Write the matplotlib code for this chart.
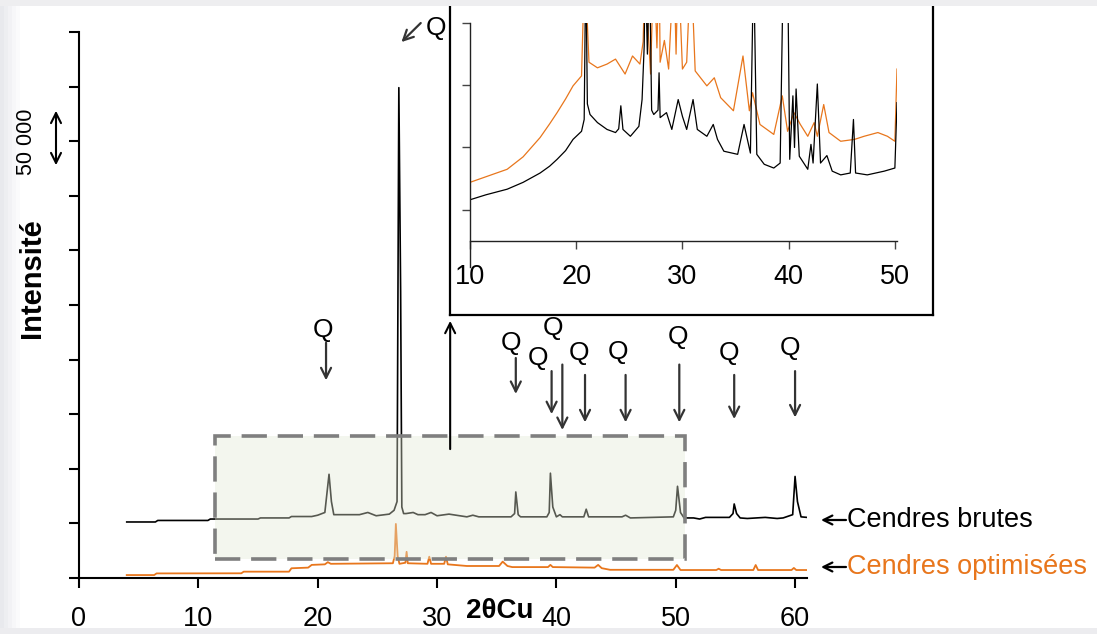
import matplotlib
matplotlib.use("Agg")
import matplotlib.pyplot as plt
from matplotlib.patches import Rectangle

plt.rcParams["font.family"] = ["Liberation Sans", "DejaVu Sans"]

W, H = 1097, 634

# main diffractogram, raw ashes (2theta, intensity)
brutes_x = [4.0, 6.4, 6.6, 10.8, 11.0, 15.0, 15.2, 17.6, 17.8, 19.5, 20.0, 20.6,
            20.95, 21.15, 21.35, 23.5, 24.2, 24.9, 26.0, 26.4, 26.65, 26.8, 26.95,
            27.05, 27.2, 27.4, 28.0, 28.4, 29.0, 29.5, 30.0, 31.0, 32.5, 33.0,
            33.5, 36.2, 36.5, 36.6, 36.8, 37.0, 39.2, 39.4, 39.5, 39.7, 40.0,
            40.3, 40.5, 42.3, 42.5, 42.7, 45.5, 45.8, 46.2, 49.8, 50.0, 50.15,
            50.4, 50.7, 51.5, 52.0, 52.5, 54.5, 54.8, 54.9, 55.1, 55.4, 56.0,
            57.5, 58.5, 59.0, 59.8, 60.0, 60.2, 60.5, 61.0]
brutes_y = [51300, 51300, 52700, 52700, 54000, 54000, 55000, 55000, 56300, 56300,
            57500, 60000, 95000, 70000, 58000, 58000, 60000, 57000, 58500, 62000,
            70000, 449000, 262000, 65000, 59000, 59000, 60000, 58000, 58000,
            60000, 57000, 58500, 56000, 57500, 56000, 56000, 59000, 78800, 58000,
            56000, 56000, 60000, 96000, 65000, 56000, 58000, 56000, 56000, 63000,
            56000, 56000, 57500, 55000, 56000, 62000, 84000, 60000, 55000, 55000,
            54000, 55500, 55500, 59000, 67800, 59000, 55000, 54500, 55500, 54500,
            55000, 58000, 93000, 70000, 56000, 55500]

# main diffractogram, optimised ashes
optim_x = [4.0, 6.3, 6.5, 13.6, 13.8, 17.6, 17.8, 19.2, 19.5, 20.6, 20.85, 21.1,
           26.3, 26.45, 26.55, 26.7, 26.85, 27.35, 27.45, 27.55, 29.2, 29.35,
           29.5, 30.6, 30.75, 30.9, 32.5, 35.2, 35.5, 35.9, 36.3, 39.3, 39.5,
           39.7, 43.2, 43.5, 43.8, 44.5, 49.8, 50.1, 50.4, 53.4, 53.6, 53.8,
           56.5, 56.7, 56.9, 59.7, 59.9, 60.1, 61.0]
optim_y = [2700, 2700, 4200, 4300, 5800, 5800, 8900, 9500, 12000, 12500, 14500,
           13000, 13500, 20000, 49500, 20000, 13000, 14000, 24000, 13500, 13000,
           19500, 13000, 13000, 19500, 12500, 11000, 11000, 15000, 11000, 10000,
           10000, 12000, 10000, 9500, 12000, 9000, 7500, 7500, 11900, 7300, 7300,
           8500, 7300, 7300, 11900, 7300, 7300, 9200, 7300, 7300]

# zoomed inset 10-50 deg (arbitrary units)
zoom_brutes_x = [10.0, 11.5, 13.5, 15.0, 16.6, 17.5, 18.2, 19.0, 19.7, 20.5, 20.75,
                 20.9, 21.05, 21.3, 22.0, 22.9, 23.7, 24.0, 24.2, 24.4, 25.1, 25.9,
                 26.2, 26.4, 26.5, 26.7, 26.9, 27.1, 27.3, 27.7, 27.8, 27.9, 28.5,
                 29.0, 29.6, 30.0, 30.4, 31.0, 31.4, 32.3, 32.9, 33.3, 33.9, 35.2,
                 35.8, 36.4, 36.7, 37.0, 37.7, 38.6, 39.2, 39.5, 39.9, 40.1, 40.4,
                 40.55, 40.7, 41.0, 41.8, 42.1, 42.3, 42.7, 43.0, 43.6, 44.1, 44.9,
                 45.8, 46.1, 46.3, 47.4, 49.0, 50.0, 50.2]
zoom_brutes_y = [1.16, 1.24, 1.33, 1.44, 1.59, 1.70, 1.81, 1.95, 2.13, 2.26, 2.45,
                 5.0, 2.70, 2.53, 2.40, 2.29, 2.24, 2.30, 2.67, 2.29, 2.18, 2.34,
                 2.77, 3.63, 5.0, 3.50, 5.0, 2.60, 2.53, 2.60, 3.20, 2.48, 2.56,
                 2.29, 2.77, 2.50, 2.29, 2.77, 2.29, 2.18, 2.37, 2.13, 1.94, 1.89,
                 2.37, 1.91, 5.0, 1.89, 1.73, 1.67, 1.75, 5.0, 5.0, 1.81, 2.83,
                 2.00, 2.94, 1.86, 1.65, 2.05, 1.75, 3.02, 1.75, 1.87, 1.62, 1.56,
                 1.59, 2.45, 1.59, 1.56, 1.62, 1.67, 2.72]
zoom_optim_x = [10.0, 11.5, 13.5, 15.0, 16.6, 17.5, 18.2, 19.0, 19.7, 20.5, 20.8,
                21.2, 22.0, 22.9, 23.7, 24.6, 25.3, 26.0, 26.3, 26.5, 26.8, 27.0,
                27.3, 27.6, 27.8, 27.9, 28.3, 28.7, 29.2, 29.4, 29.6, 30.0, 30.4,
                30.8, 31.2, 32.3, 33.0, 33.6, 34.8, 35.7, 36.3, 36.6, 37.3, 38.6,
                39.4, 39.9, 40.5, 41.1, 41.8, 42.4, 42.7, 43.3, 43.8, 44.9, 46.2,
                47.1, 48.4, 49.3, 50.0, 50.2]
zoom_optim_y = [1.44, 1.53, 1.65, 1.85, 2.16, 2.38, 2.56, 2.78, 2.99, 3.15, 5.0,
                3.37, 3.28, 3.34, 3.42, 3.18, 3.47, 3.34, 3.70, 5.0, 3.80, 3.18,
                5.0, 3.60, 5.0, 3.37, 3.72, 3.26, 5.0, 3.50, 5.0, 3.26, 3.37, 5.0,
                3.23, 2.99, 3.12, 2.80, 2.59, 3.47, 2.59, 2.88, 2.37, 2.21, 2.83,
                2.26, 2.56, 2.37, 2.18, 2.40, 2.18, 2.69, 2.24, 2.10, 2.13, 2.18,
                2.24, 2.18, 2.10, 3.26]

# quartz peak markers: peak position, label height, arrow top, arrow bottom, label shift
q_pos = [20.7, 36.6, 39.6, 40.5, 42.4, 45.8, 50.3, 54.9, 60.0]
q_label_y = [227000, 215000, 201500, 229000, 206000, 207000, 221000, 206000, 210500]
q_arrow_top = [218000, 204000, 192000, 198000, 188500, 188500, 198000, 188500, 192000]
q_arrow_bot = [178500, 166000, 147500, 133000, 140000, 140000, 140000, 143000, 144500]
q_shift = [-0.25, -0.4, -1.1, -0.75, -0.5, -0.67, -0.1, -0.4, -0.4]

x_ticks = [0, 10, 20, 30, 40, 50, 60]
zoom_ticks = [10, 20, 30, 40, 50]

black = "#000000"
orange = "#E8761C"
arrow_col = "#333333"

fig = plt.figure(figsize=(W / 100, H / 100), dpi=100)
fig.patch.set_facecolor("white")

# slide background strips
for i, a in enumerate([0.9, 0.7, 0.5, 0.3, 0.15]):
    fig.patches.append(Rectangle((i * 4 / W, 0), 4 / W, 1, transform=fig.transFigure,
                                 color="#e6e7ec", alpha=a, lw=0, zorder=0))
fig.patches.append(Rectangle((0, 1 - 6 / H), 1, 6 / H, transform=fig.transFigure,
                             color="#eeeef0", lw=0, zorder=0))
fig.patches.append(Rectangle((0, 0), 1, 6 / H, transform=fig.transFigure,
                             color="#ececef", lw=0, zorder=0))

ax = fig.add_axes([79 / W, (H - 578) / H, (807 - 79) / W, (578 - 32) / H])
ax.patch.set_alpha(0)
ax.plot(brutes_x, brutes_y, color=black, lw=1.2, zorder=2)
ax.plot(optim_x, optim_y, color=orange, lw=1.3, zorder=2)
ax.set_xlim(0, 61)
ax.set_ylim(0, 500000)
ax.set_xticks(x_ticks)
ax.set_yticks(range(0, 500001, 50000))
ax.set_yticklabels([])
ax.tick_params(axis="both", direction="out", length=7, width=1.5, labelsize=19.5, pad=13)
for s in ["top", "right"]:
    ax.spines[s].set_visible(False)
for s in ["left", "bottom"]:
    ax.spines[s].set_linewidth(1.5)

# dashed zoom window
ax.add_patch(Rectangle((11.4, 17400), 50.8 - 11.4, 130000 - 17400,
                       facecolor=(0.888, 0.909, 0.826, 0.385), edgecolor="#7f7f7f",
                       lw=2.6, linestyle=(0, (7, 3)), zorder=3))

ax.annotate("", xy=(31.1, 238000), xytext=(31.1, 115500),
            arrowprops=dict(arrowstyle="->", color=black, lw=1.5,
                            mutation_scale=18), zorder=4)

for x, ly, top, bot, dx in zip(q_pos, q_label_y, q_arrow_top, q_arrow_bot, q_shift):
    ax.text(x + dx, ly, "Q", fontsize=19, ha="center", va="center", zorder=4)
    ax.annotate("", xy=(x, bot), xytext=(x, top),
                arrowprops=dict(arrowstyle="->", color=arrow_col, lw=1.6,
                                mutation_scale=18), zorder=4)

ax.annotate("", xy=(26.85, 489000), xytext=(28.8, 510000), annotation_clip=False,
            arrowprops=dict(arrowstyle="->", color=arrow_col, lw=1.6, mutation_scale=18))
ax.text(29.95, 504000, "Q", fontsize=19, ha="center", va="center", clip_on=False)

# curve labels with pointing arrows
for ly, label, col in [(520, "Cendres brutes", black), (567, "Cendres optimisées", orange)]:
    fig.text(847 / W, 1 - ly / H, label, fontsize=19.5, color=col,
             ha="left", va="center")
    ax.annotate("", xy=(821, H - ly), xytext=(846, H - ly), xycoords="figure pixels",
                textcoords="figure pixels",
                arrowprops=dict(arrowstyle="->", color=black, lw=1.6,
                                mutation_scale=16, shrinkA=0, shrinkB=0))

fig.text(500 / W, 1 - 611 / H, "2θCu", fontsize=20, fontweight="bold",
         ha="center", va="center")
fig.text(32 / W, 1 - 278 / H, "Intensité", fontsize=21, fontweight="bold",
         rotation=90, ha="center", va="center")
fig.text(27 / W, 1 - 142 / H, "50 000", fontsize=15.5, rotation=90,
         ha="center", va="center")
ax.annotate("", xy=(56, H - 108), xytext=(56, H - 168), xycoords="figure pixels",
            textcoords="figure pixels",
            arrowprops=dict(arrowstyle="<->", color=black, lw=1.5, mutation_scale=18))

# inset frame
frame = fig.add_axes([450 / W, (H - 315) / H, (933 - 450) / W, 340 / H])
frame.set_xticks([])
frame.set_yticks([])
frame.set_facecolor("white")
for s in frame.spines.values():
    s.set_linewidth(1.6)

ins = fig.add_axes([470 / W, (H - 267) / H, (897 - 470) / W, (267 - 23) / H])
ins.patch.set_alpha(0)
ins.plot(zoom_optim_x, zoom_optim_y, color=orange, lw=0.9)
ins.plot(zoom_brutes_x, zoom_brutes_y, color=black, lw=0.9)
ins.set_xlim(10, 50.2)
ins.set_ylim(0.08, 4.0)
ins.spines["bottom"].set_position(("data", 0.5))
for s in ["top", "right"]:
    ins.spines[s].set_visible(False)
for s in ["left", "bottom"]:
    ins.spines[s].set_linewidth(1.0)
    ins.spines[s].set_color("#222222")
ins.set_xticks(zoom_ticks)
ins.set_yticks([1, 2, 3, 4])
ins.set_yticklabels([])
ins.tick_params(axis="both", direction="out", length=6, width=1.0, labelsize=19.5,
                pad=11, color="#444444")

fig.savefig("out.png", dpi=100)
